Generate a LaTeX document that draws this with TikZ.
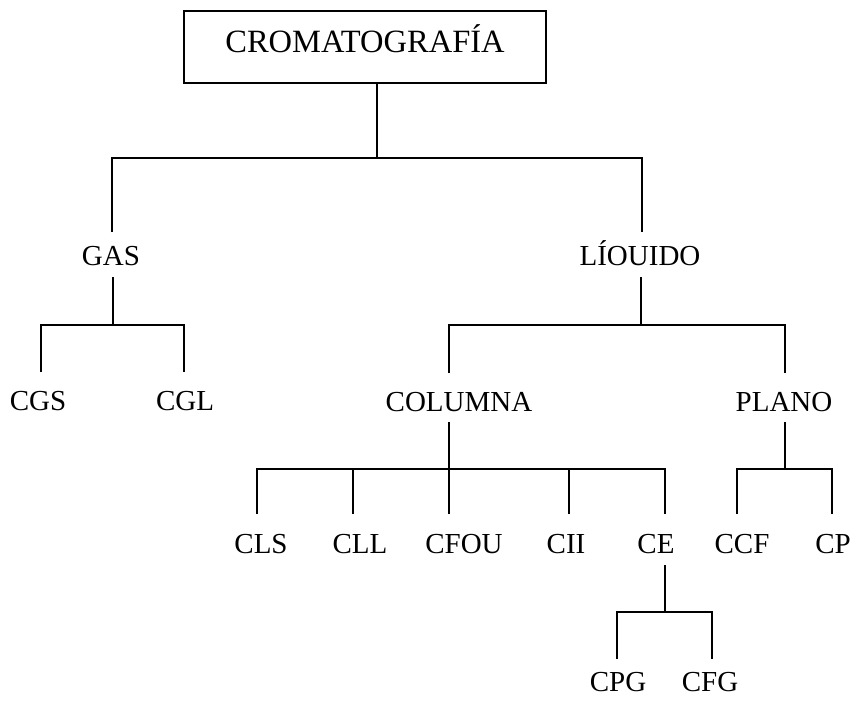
\documentclass[tikz,border=0pt]{standalone}
\usepackage{fontspec}
\setmainfont{Liberation Serif}
\begin{document}
\begin{tikzpicture}[x=1pt,y=-1pt,
  lbl/.style={anchor=base,inner sep=0pt,font=\fontsize{29}{34}\selectfont},
  titlebox/.style={draw,line width=1.6pt,inner sep=0pt,minimum width=362pt,minimum height=72pt,
     text height=20pt,text depth=10pt,font=\fontsize{32.5}{38}\selectfont},
  edge/.style={line width=1.6pt}]
\useasboundingbox (0,0) rectangle (855,702);
\node[titlebox] (title) at (365,47) {CROMATOGRAFÍA};
\node[lbl] (gas) at (111,265) {GAS};
\node[lbl] (liq) at (640,265) {LÍOUIDO};
\node[lbl] (cgs) at (38,410) {CGS};
\node[lbl] (cgl) at (185,410) {CGL};
\node[lbl] (col) at (459,411) {COLUMNA};
\node[lbl] (pla) at (784,411) {PLANO};
\node[lbl] (cls) at (261,553) {CLS};
\node[lbl] (cll) at (360,553) {CLL};
\node[lbl] (cfou) at (464,553) {CFOU};
\node[lbl] (cii) at (566,553) {CII};
\node[lbl] (ce) at (656,553) {CE};
\node[lbl] (ccf) at (742,553) {CCF};
\node[lbl] (cp) at (833,553) {CP};
\node[lbl] (cpg) at (618,691) {CPG};
\node[lbl] (cfg) at (710,691) {CFG};
% top fork
\coordinate (b0) at ([shift={(12,74)}]title.south);
\draw[edge] ([xshift=12pt]title.south) -- (b0);
\draw[edge] ([shift={(1,-33)}]gas.base) |- (b0) -| ([shift={(2,-33)}]liq.base);
% gas fork
\coordinate (b1) at ([shift={(2,60)}]gas.base);
\draw[edge] ([shift={(2,12)}]gas.base) -- (b1);
\draw[edge] ([shift={(3,-38)}]cgs.base) |- (b1) -| ([shift={(-1,-38)}]cgl.base);
% liquido fork
\coordinate (b2) at ([shift={(1,60)}]liq.base);
\draw[edge] ([shift={(1,12)}]liq.base) -- (b2);
\draw[edge] ([shift={(-10,-38)}]col.base) |- (b2) -| ([shift={(1,-38)}]pla.base);
% columna fork
\coordinate (b3) at ([shift={(-10,58)}]col.base);
\draw[edge] ([shift={(-10,11)}]col.base) -- (b3);
\draw[edge] ([shift={(-4,-39)}]cls.base) |- (b3) -| ([shift={(9,-39)}]ce.base);
\draw[edge] ([shift={(-7,-39)}]cll.base) |- (b3);
\draw[edge] ([shift={(-15,-39)}]cfou.base) -- (b3);
\draw[edge] ([shift={(3,-39)}]cii.base) |- (b3);
% plano fork
\coordinate (b4) at ([shift={(1,58)}]pla.base);
\draw[edge] ([shift={(1,11)}]pla.base) -- (b4);
\draw[edge] ([shift={(-5,-39)}]ccf.base) |- (b4) -| ([shift={(-1,-39)}]cp.base);
% ce fork
\coordinate (b5) at ([shift={(9,59)}]ce.base);
\draw[edge] ([shift={(9,12)}]ce.base) -- (b5);
\draw[edge] ([shift={(-1,-32)}]cpg.base) |- (b5) -| ([shift={(2,-32)}]cfg.base);
\end{tikzpicture}
\end{document}
